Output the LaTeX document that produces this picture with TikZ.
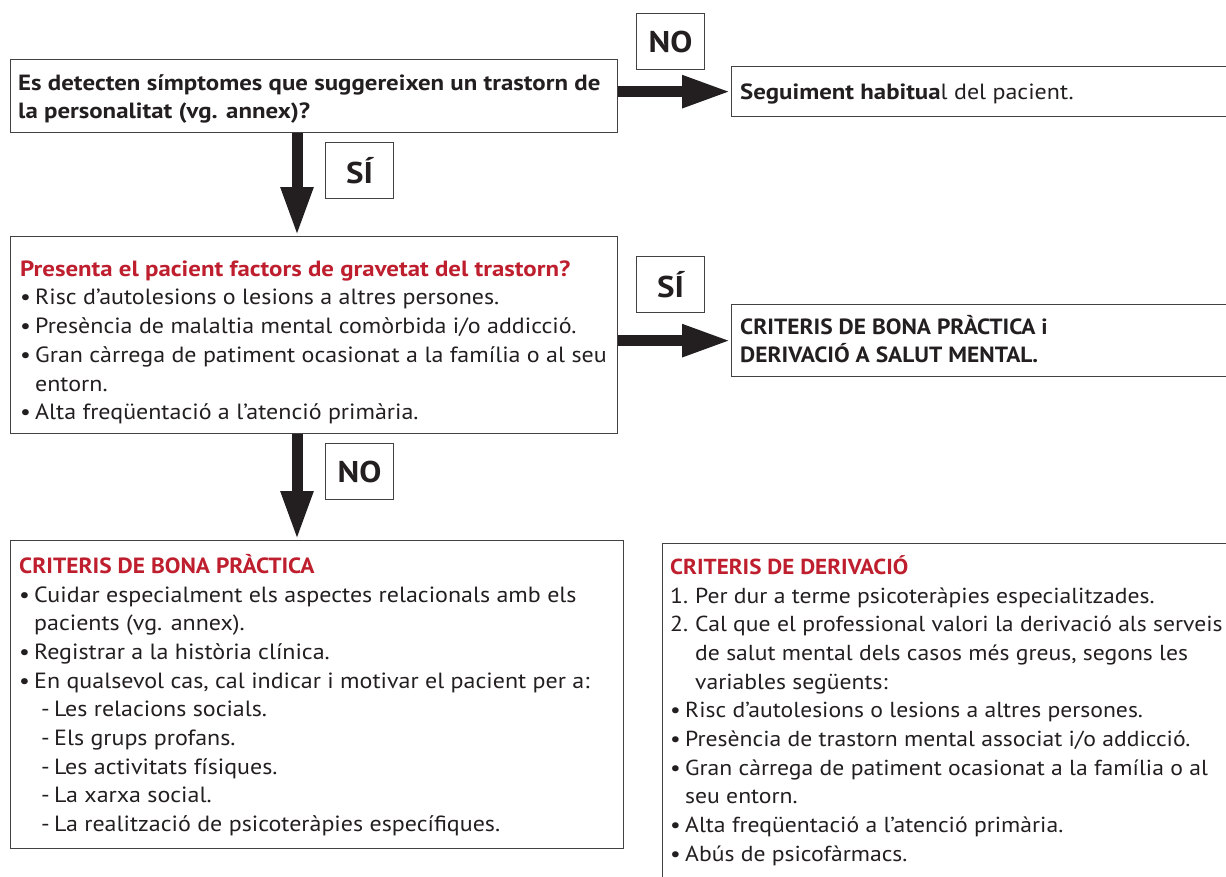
\documentclass[tikz,border=0pt]{standalone}
\usepackage{fontspec}
\setmainfont{PT Sans}[FakeStretch=1.09, BoldFeatures={FakeStretch=1.10}]
% wider bold for mixed-case headings, narrower bold for capitals
\newfontfamily\headfont{PT Sans}[FakeStretch=1.13, BoldFeatures={FakeStretch=1.13}]
\newfontfamily\capsfont{PT Sans}[FakeStretch=1.065, BoldFeatures={FakeStretch=1.065}]
\usetikzlibrary{arrows.meta}
\definecolor{ink}{HTML}{231F20}
\definecolor{accent}{HTML}{BE1E2D}
\newcommand\bitem{\makebox[15pt][l]{\textbullet}}
\newcommand\bhang{\hspace*{15pt}}
\newcommand\nitem[1]{\makebox[25pt][l]{#1}}
\newcommand\nhang{\hspace*{25pt}}
\newcommand\ditem{\hspace*{22pt}\makebox[13pt][l]{-}}
\begin{document}
\begin{tikzpicture}[x=1pt,y=-1pt,
  box/.style={draw=ink!85, line width=1.3pt, inner sep=0pt, anchor=north west},
  txt/.style={anchor=north west, inner sep=0pt, align=left, text=ink,
    font=\fontsize{22}{28.7}\selectfont},
  tag/.style={draw=ink!85, line width=1.1pt, inner sep=0pt, minimum width=68pt,
    minimum height=56pt, anchor=north west, text=ink,
    font=\bfseries\fontsize{30}{30}\selectfont},
  flow/.style={draw=ink, line width=11pt, -{Triangle[length=49pt,width=30pt]}}
]
\useasboundingbox (0,0) rectangle (1226,876);
\clip (0,0) rectangle (1226,876);

% boxes
\node[box, minimum width=607pt, minimum height=73pt] (b1) at (10,59) {};
\node[box, minimum width=520pt, minimum height=50pt] (b1r) at (731,66) {};
\node[box, minimum width=607pt, minimum height=197pt] (b2) at (10,236) {};
\node[box, minimum width=520pt, minimum height=72pt] (b2r) at (731,304) {};
\node[box, minimum width=613pt, minimum height=308pt] (b3) at (10,540) {};
\node[box, minimum width=600pt, minimum height=400pt] (b4) at (662,543) {};

% decision labels
\node[tag] (no1) at (636,13) {NO};
\node[tag] (si1) at (325,142) {SÍ};
\node[tag] (si2) at (636,256) {SÍ};
\node[tag] (no2) at (325,443) {NO};

% connectors
\coordinate (ax) at (297,0);
\draw[flow] (b1.south -| ax) -- (b2.north -| ax);
\draw[flow] (b2.south -| ax) -- (b3.north -| ax);
\draw[flow] (b1r.west -| b1.east) -- (b1r.west);
\draw[flow] (b2r.west -| b2.east) -- (b2r.west);

% texts
\node[txt, font=\headfont\bfseries\fontsize{22}{28.7}\selectfont] (t1) at (18,70)
  {\strut Es detecten símptomes que suggereixen un trastorn de\\
   la personalitat (vg. annex)?};
\node[txt] (t1r) at (740,79)
  {\strut{\headfont\bfseries Seguiment habitua}l del pacient.};
\node[txt] (t2) at (20,256)
  {\strut\textcolor{accent}{\headfont\bfseries Presenta el pacient factors de gravetat del trastorn?}\\
   \bitem Risc d’autolesions o lesions a altres persones.\\
   \bitem Presència de malaltia mental comòrbida i/o addicció.\\
   \bitem Gran càrrega de patiment ocasionat a la família o al seu\\
   \bhang entorn.\\
   \bitem Alta freqüentació a l’atenció primària.};
\node[txt, font=\capsfont\bfseries\fontsize{22}{28.7}\selectfont] (t2r) at (740,314)
  {\strut CRITERIS DE BONA PRÀCTICA i\\
   DERIVACIÓ A SALUT MENTAL.};
\node[txt] (t3) at (19,553)
  {\strut\textcolor{accent}{\capsfont\bfseries CRITERIS DE BONA PRÀCTICA}\\
   \bitem Cuidar especialment els aspectes relacionals amb els\\
   \bhang pacients (vg. annex).\\
   \bitem Registrar a la història clínica.\\
   \bitem En qualsevol cas, cal indicar i motivar el pacient per a:\\
   \ditem Les relacions socials.\\
   \ditem Els grups profans.\\
   \ditem Les activitats físiques.\\
   \ditem La xarxa social.\\
   \ditem La realització de psicoteràpies específiques.};
\node[txt, font=\fontsize{21.7}{28.7}\selectfont] (t4) at (670,554)
  {\strut\textcolor{accent}{\capsfont\bfseries CRITERIS DE DERIVACIÓ}\\
   \nitem{1.}Per dur a terme psicoteràpies especialitzades.\\
   \nitem{2.}Cal que el professional valori la derivació als serveis\\
   \nhang de salut mental dels casos més greus, segons les\\
   \nhang variables següents:\\
   \bitem Risc d’autolesions o lesions a altres persones.\\
   \bitem Presència de trastorn mental associat i/o addicció.\\
   \bitem Gran càrrega de patiment ocasionat a la família o al\\
   \bhang seu entorn.\\
   \bitem Alta freqüentació a l’atenció primària.\\
   \bitem Abús de psicofàrmacs.};
\end{tikzpicture}
\end{document}
